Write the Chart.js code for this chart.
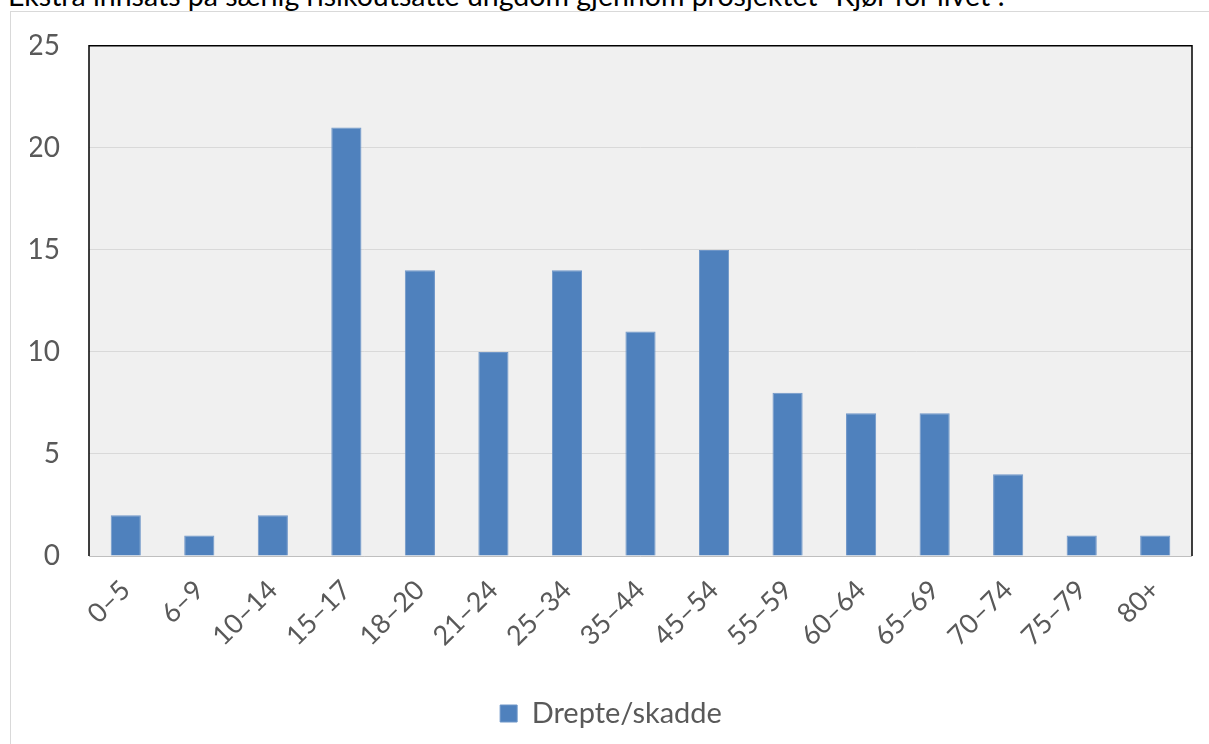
<!DOCTYPE html>
<html>
<head>
<meta charset="utf-8">
<script src="https://cdn.jsdelivr.net/npm/chart.js@4"></script>
<style>
    html, body { margin: 0; padding: 0; background: #ffffff; overflow: hidden; }
    #caption {
        position: absolute; left: 8px; top: -22px;
        font-family: Lato, "Open Sans", sans-serif; font-size: 28.5px; color: #000;
        white-space: nowrap;
    }
    #frame {
        position: absolute; left: 10px; top: 11px; width: 1240px; height: 780px;
        border: 1px solid #d9d9d9; box-sizing: border-box;
    }
    #wrap { position: absolute; left: 0; top: 0; width: 1209px; height: 744px; }
</style>
</head>
<body>
<div id="caption">Ekstra innsats på særlig risikoutsatte ungdom gjennom prosjektet "Kjør for livet".</div>
<div id="frame"></div>
<div id="wrap"><canvas id="chart_canvas"></canvas></div>
<script>
// age groups and counts
const ageGroups = ["0–5", "6–9", "10–14", "15–17", "18–20", "21–24", "25–34", "35–44",
    "45–54", "55–59", "60–64", "65–69", "70–74", "75–79", "80+"];
const casualties = [2, 1, 2, 21, 14, 10, 14, 11, 15, 8, 7, 7, 4, 1, 1];
const yTicks = [0, 5, 10, 15, 20, 25];

const fontFamily = "Lato, 'Open Sans', sans-serif";

// grey plot background + black frame like the original
const plotFrame = {
    id: "plotFrame",
    beforeDraw(chart) {
        const a = chart.chartArea;
        const ctx = chart.ctx;
        ctx.save();
        ctx.fillStyle = "#f0f0f0";
        ctx.fillRect(a.left, a.top, a.right - a.left, a.bottom - a.top);
        ctx.restore();
    },
    afterDatasetsDraw(chart) {
        const a = chart.chartArea;
        const ctx = chart.ctx;
        ctx.save();
        ctx.strokeStyle = "#000000";
        ctx.lineWidth = 1.5;
        ctx.beginPath();
        ctx.moveTo(a.left, a.bottom);
        ctx.lineTo(a.left, a.top);
        ctx.lineTo(a.right, a.top);
        ctx.lineTo(a.right, a.bottom);
        ctx.stroke();
        ctx.strokeStyle = "#bfbfbf";
        ctx.lineWidth = 1;
        ctx.beginPath();
        ctx.moveTo(a.left, a.bottom + 0.5);
        ctx.lineTo(a.right, a.bottom + 0.5);
        ctx.stroke();
        ctx.restore();
    }
};

const ctx = document.getElementById("chart_canvas").getContext("2d");
const chart = new Chart(ctx, {
    type: "bar",
    data: {
        labels: ageGroups,
        datasets: [{
            label: "Drepte/skadde",
            data: casualties,
            backgroundColor: "#4f81bd",
            borderColor: "#6f96c8",
            borderWidth: 1,
            barPercentage: 0.82,
            categoryPercentage: 0.5
        }]
    },
    options: {
        responsive: true,
        maintainAspectRatio: false,
        animation: false,
        layout: { padding: { left: 30, right: 17, top: 28, bottom: 6 } },
        plugins: {
            tooltip: { enabled: false },
            legend: {
                position: "bottom",
                labels: {
                    boxWidth: 17, boxHeight: 17, padding: 20,
                    color: "#595959",
                    font: { family: fontFamily, size: 29 }
                }
            }
        },
        scales: {
            x: {
                grid: { display: false, drawTicks: false },
                border: { display: false },
                afterFit: s => { s.paddingLeft = 0; s.paddingRight = 0; s.height = 123; },
                ticks: {
                    color: "#595959", maxRotation: 45, minRotation: 45, padding: 18,
                    font: { family: fontFamily, size: 27 }
                }
            },
            y: {
                min: 0, max: 25,
                afterBuildTicks: axis => { axis.ticks = yTicks.map(v => ({ value: v })); },
                afterFit: s => { s.width = 59; },
                grid: { color: "#d9d9d9", lineWidth: 1, drawTicks: false },
                border: { display: false },
                ticks: {
                    color: "#595959", padding: 29,
                    font: { family: fontFamily, size: 28 }
                }
            }
        }
    },
    plugins: [plotFrame]
});
</script>
</body>
</html>
